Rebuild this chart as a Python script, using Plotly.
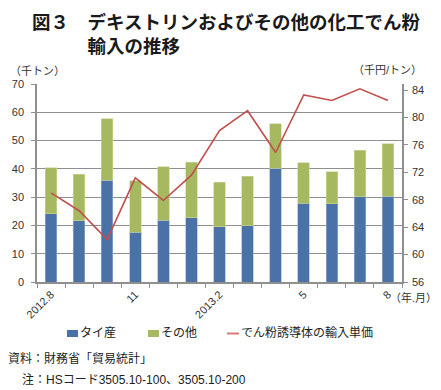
import plotly.graph_objects as go

categories = ["2012.8", "9", "10", "11", "12", "2013.1", "2013.2", "3", "4", "5", "6", "7", "8"]
tick_labels = ["2012.8", "", "", "11", "", "", "2013.2", "", "", "5", "", "", "8"]
thai = [24.1, 21.7, 36.0, 17.6, 21.9, 22.8, 19.6, 19.9, 40.2, 27.9, 27.7, 30.2, 30.4]
total = [40.4, 38.1, 57.8, 35.8, 40.8, 42.4, 35.3, 37.3, 55.9, 42.2, 38.9, 46.6, 48.8]
other = [round(t - a, 1) for t, a in zip(total, thai)]
unit_price = [69.0, 66.4, 62.2, 71.2, 67.9, 71.6, 78.1, 81.0, 74.9, 83.3, 82.5, 84.2, 82.5]
series_names = ["タイ産", "その他", "でん粉誘導体の輸入単価"]
series_colors = ["#4a72a6", "#a6b961", "#c0504d"]

x = list(range(len(categories)))
FONT = "Arial, Liberation Sans, Noto Sans CJK JP, sans-serif"
GRID = "#8f8f8f"

W, H = 441, 390
L, R, T, B = 37, 39, 84, 108


def px(xp):
    return (xp - L) / (W - L - R)


def py(yp):
    return (H - B - yp) / (H - B - T)


fig = go.Figure()
fig.add_trace(go.Bar(x=x, y=thai, name=series_names[0],
                     marker=dict(color=series_colors[0], line=dict(width=0.6, color="#9db3d3"))))
fig.add_trace(go.Bar(x=x, y=other, name=series_names[1],
                     marker=dict(color=series_colors[1], line=dict(width=0.6, color="#c9d79a"))))
fig.add_trace(go.Scatter(x=x, y=unit_price, name=series_names[2], mode="lines",
                         line=dict(color=series_colors[2], width=1.6), yaxis="y2"))

fig.update_layout(
    width=W, height=H,
    margin=dict(l=L, r=R, t=T, b=B),
    barmode="stack", bargap=0.59,
    plot_bgcolor="white", paper_bgcolor="white",
    font=dict(family=FONT, size=11, color="#333333"),
    showlegend=False,
    xaxis=dict(
        range=[-0.5, 12.5], tickmode="array", tickvals=x, ticktext=tick_labels,
        tickangle=-45, ticks="", showgrid=False, zeroline=False,
        showline=True, linecolor=GRID, linewidth=1.5,
        tickfont=dict(size=11, color="#333333"),
        minor=dict(tick0=0.5, dtick=1, ticks="outside", ticklen=4, tickcolor=GRID, showgrid=False),
    ),
    yaxis=dict(
        range=[0, 70], dtick=10, showgrid=True, gridcolor=GRID, gridwidth=1,
        zeroline=False, showline=True, linecolor=GRID, linewidth=1.5,
        ticks="outside", ticklen=4, tickcolor=GRID, tickfont=dict(size=11, color="#333333"),
        ticklabelstandoff=5,
    ),
    yaxis2=dict(
        range=[56, 84.9], tickvals=[56, 60, 64, 68, 72, 76, 80, 84], overlaying="y", side="right",
        showgrid=False, zeroline=False, showline=True, linecolor=GRID, linewidth=1.5,
        ticks="outside", ticklen=4, tickcolor=GRID, tickfont=dict(size=11, color="#333333"),
        ticklabelstandoff=2,
    ),
)

ann = [
    dict(text="図３　デキストリンおよびその他の化工でん粉<br>　　　輸入の推移", x=30, y=6, xanchor="left", yanchor="top",
         align="left", font=dict(size=18.5, color="#1a1a1a", family="Noto Sans CJK JP", weight=600)),
    dict(text="（千トン）", x=8, y=71, xanchor="left", yanchor="middle", font=dict(size=11)),
    dict(text="（千円/トン）", x=424, y=70, xanchor="right", yanchor="middle", font=dict(size=11)),
    dict(text="（年.月）", x=439, y=297, xanchor="right", yanchor="middle", font=dict(size=11)),
    dict(text="資料：財務省「貿易統計」", x=6, y=358, xanchor="left", yanchor="middle", font=dict(size=12, color="#222222")),
    dict(text="注：HSコード3505.10-100、3505.10-200", x=20, y=380, xanchor="left", yanchor="middle", font=dict(size=12, color="#222222")),
    # legend texts
    dict(text=series_names[0], x=78, y=333, xanchor="left", yanchor="middle", font=dict(size=12, color="#222222")),
    dict(text=series_names[1], x=159, y=333, xanchor="left", yanchor="middle", font=dict(size=12, color="#222222")),
    dict(text=series_names[2], x=239, y=333, xanchor="left", yanchor="middle", font=dict(size=12, color="#222222")),
]
annotations = []
for a in ann:
    d = dict(xref="paper", yref="paper", showarrow=False)
    d.update(a)
    d["x"] = px(a["x"])
    d["y"] = py(a["y"])
    annotations.append(d)

# legend keys
shapes = [
    dict(type="rect", xref="paper", yref="paper", x0=px(67), x1=px(78), y0=py(330), y1=py(337),
         fillcolor=series_colors[0], line=dict(width=0)),
    dict(type="rect", xref="paper", yref="paper", x0=px(148), x1=px(159), y0=py(330), y1=py(337),
         fillcolor=series_colors[1], line=dict(width=0)),
    dict(type="line", xref="paper", yref="paper", x0=px(227), x1=px(239), y0=py(333.5), y1=py(333.5),
         line=dict(color="#d77a77", width=2)),
]
fig.update_layout(annotations=annotations, shapes=shapes)

fig.write_html("out.html", config={"displayModeBar": False},
               post_script="document.body.style.margin='0';document.body.style.overflow='hidden';")
